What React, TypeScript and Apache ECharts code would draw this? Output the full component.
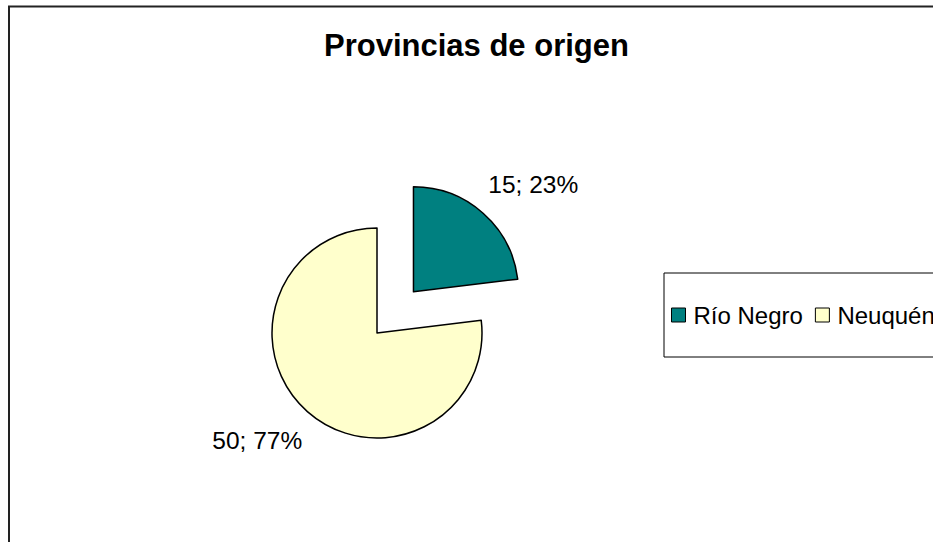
import React, { useEffect, useRef } from "react";
import * as echarts from "echarts";

const categories = ["Río Negro", "Neuquén"];
const values = [15, 50];
const colors = ["#008080", "#FFFFCC"];
const titleText = "Provincias de origen";

const FONT = "'Liberation Sans', Arial, sans-serif";

export default function App() {
  const ref = useRef<HTMLDivElement>(null);
  useEffect(() => {
    if (!ref.current) return;
    const chart = echarts.init(ref.current, undefined, { renderer: "svg" });
    const total = values.reduce((a, b) => a + b, 0);
    chart.setOption({
      animation: false,
      backgroundColor: "#ffffff",
      title: {
        text: titleText,
        left: 324,
        top: 30,
        padding: 0,
        textStyle: { fontFamily: FONT, fontSize: 31, fontWeight: "bold", color: "#000" },
      },
      legend: {
        orient: "horizontal",
        left: 664,
        top: 273,
        width: 320,
        padding: [30, 7, 30, 7],
        borderColor: "#000",
        borderWidth: 1,
        itemWidth: 14,
        itemHeight: 14,
        itemGap: 12,
        icon: "rect",
        selectedMode: false,
        data: categories,
        itemStyle: { borderColor: "#000", borderWidth: 1 },
        textStyle: { fontFamily: FONT, fontSize: 24, color: "#000", padding: [0, 0, 0, 3] },
      },
      graphic: [
        {
          type: "rect",
          shape: { x: 9, y: 6.5, width: 1000, height: 600 },
          style: { fill: "none", stroke: "#222", lineWidth: 2 },
          silent: true,
          z: -1,
        },
      ],
      series: [
        {
          type: "pie",
          center: [377, 333],
          radius: 105,
          startAngle: 90,
          clockwise: true,
          selectedMode: "single",
          selectedOffset: 55,
          avoidLabelOverlap: false,
          emphasis: { disabled: true },
          itemStyle: { borderColor: "#000", borderWidth: 1.5 },
          label: {
            show: true,
            position: "outside",
            fontFamily: FONT,
            fontSize: 24.5,
            color: "#000",
            distanceToLabelLine: 5,
            formatter: (p: any) => `${p.value}; ${Math.round((p.value / total) * 100)}%`,
          },
          labelLine: { show: false, length: 38, length2: -25 },
          data: categories.map((name, i) => ({
            name,
            value: values[i],
            selected: i === 0,
            itemStyle: { color: colors[i] },
          })),
        },
      ],
    });
    return () => chart.dispose();
  }, []);
  return (
    <div style={{ position: "absolute", left: 0, top: 0, width: 933, height: 542, overflow: "hidden" }}>
      <div ref={ref} style={{ width: 933, height: 542 }} />
    </div>
  );
}
